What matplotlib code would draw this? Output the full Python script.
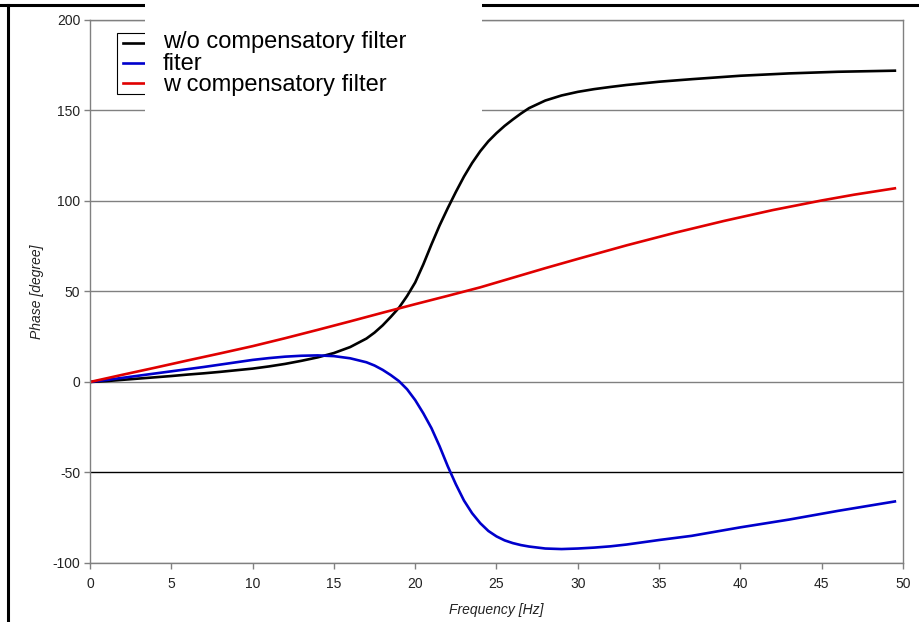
import matplotlib
matplotlib.use('Agg')
import matplotlib.pyplot as plt
from matplotlib.patches import Rectangle
from matplotlib.lines import Line2D

plt.rcParams['font.family'] = ['Liberation Sans', 'DejaVu Sans']
plt.rcParams['axes.unicode_minus'] = False

# frequency [Hz] and phase [degree]
freq_a = [0, 1, 2, 3, 4, 5, 6, 7, 8, 9, 10, 11, 12, 13, 14, 15, 16, 17, 17.5, 18, 18.5,
          19, 19.5, 20, 20.5, 21, 21.5, 22, 22.5, 23, 23.5, 24, 24.5, 25, 25.5, 26, 26.5,
          27, 28, 29, 30, 31, 32, 33, 35, 37, 40, 43, 46, 49.5]
phase_wo = [0, 0.5, 1.2, 1.9, 2.6, 3.3, 4.1, 4.8, 5.6, 6.5, 7.4, 8.6, 10.0, 11.7, 13.6, 16.0,
            19.3, 24.0, 27.3, 31.3, 36, 41, 47.5, 55, 65, 76, 86.5, 96, 105, 113.5, 121,
            127.5, 133, 137.5, 141.5, 145, 148.3, 151.3, 155.5, 158.3, 160.3, 161.8, 163,
            164.1, 165.9, 167.3, 169.2, 170.5, 171.4, 172]
phase_filter = [0, 1.1, 2.3, 3.5, 4.7, 5.9, 7.1, 8.3, 9.6, 10.9, 12.2, 13.2, 14.0, 14.5,
                14.7, 14.3, 13.1, 10.9, 9.1, 6.7, 3.8, 0.5, -4.0, -10.0, -17.3, -25.5, -35.5,
                -46.5, -56.5, -65.5, -72.5, -78.0, -82.3, -85.3, -87.5, -89.0, -90.1, -90.9,
                -92, -92.3, -92, -91.5, -90.8, -89.8, -87.3, -85, -80.3, -76, -71.2, -66]

freq_b = [0, 2, 4, 6, 8, 10, 12, 14, 16, 18, 20, 22, 24, 26, 28, 30, 33, 36, 39, 42, 45,
          47, 49.5]
phase_w = [0, 4, 7.9, 11.9, 15.8, 19.8, 24.2, 28.8, 33.5, 38.3, 43, 47.6, 52.3, 57.6, 62.9,
           68, 75.5, 82.5, 89, 95, 100.3, 103.5, 107]

labels = ['w/o compensatory filter', 'fiter', 'w compensatory filter']
x_ticks = [0, 5, 10, 15, 20, 25, 30, 35, 40, 45, 50]
y_ticks = [-100, -50, 0, 50, 100, 150, 200]

W, H = 920, 622
fig = plt.figure(figsize=(W / 100, H / 100), dpi=100)
ax = fig.add_axes([90 / W, 1 - 563 / H, 813 / W, 543 / H])

l1, = ax.plot(freq_a, phase_wo, color='black', lw=1.9)
l2, = ax.plot(freq_a, phase_filter, color='#0000cc', lw=1.9)
l3, = ax.plot(freq_b, phase_w, color='#e00000', lw=1.9)

ax.set_xlim(0, 50)
ax.set_ylim(-100, 200)
ax.set_xticks(x_ticks)
ax.set_yticks(y_ticks)
ax.set_axisbelow(True)
ax.grid(axis='y', color='#808080', lw=1)
for val, gl in zip(y_ticks, ax.get_ygridlines()):
    if val == -50:
        gl.set_color('black')

for sp in ax.spines.values():
    sp.set_color('#808080')
    sp.set_linewidth(1)
ax.tick_params(direction='out', length=4, width=1, color='#808080',
               labelsize=10, labelcolor='#222222')
ax.tick_params(axis='x', pad=6)
ax.tick_params(axis='y', pad=3)
ax.set_xlabel('Frequency [Hz]', fontsize=10, style='italic', color='#222222', labelpad=9)
ax.set_ylabel('Phase [degree]', fontsize=10, style='italic', color='#222222')
ax.yaxis.set_label_coords(-0.0566, 0.5)

leg = ax.legend([l1, l2, l3], labels, loc='upper left',
                bbox_to_anchor=(117 / W, 1 - 33 / H), bbox_transform=fig.transFigure,
                fancybox=False, edgecolor='black', framealpha=1, fontsize=7,
                labelspacing=1.0, handlelength=3, borderaxespad=0, borderpad=0.6)
leg.get_frame().set_linewidth(0.8)
# the legend's own labels sit under the white box, so hide them
for t in leg.get_texts():
    t.set_visible(False)

# outer frame of the screenshot (top and left only)
fig.add_artist(Line2D([0, 1], [1 - 5 / H, 1 - 5 / H], transform=fig.transFigure,
                      color='black', lw=2.2, zorder=4))
fig.add_artist(Line2D([8 / W, 8 / W], [0, 1 - 5 / H], transform=fig.transFigure,
                      color='black', lw=2.2, zorder=4))

# white box pasted over the legend text, with bigger labels on it
fig.add_artist(Rectangle((145 / W, 1 - 125 / H), 337 / W, 125 / H, transform=fig.transFigure,
                         facecolor='white', edgecolor='none', zorder=5))
fig.text(163 / W, 1 - 31 / H, '\n'.join(labels), fontsize=17, va='top', ha='left',
         linespacing=0.98, zorder=6)

fig.savefig('out.png', dpi=100)
